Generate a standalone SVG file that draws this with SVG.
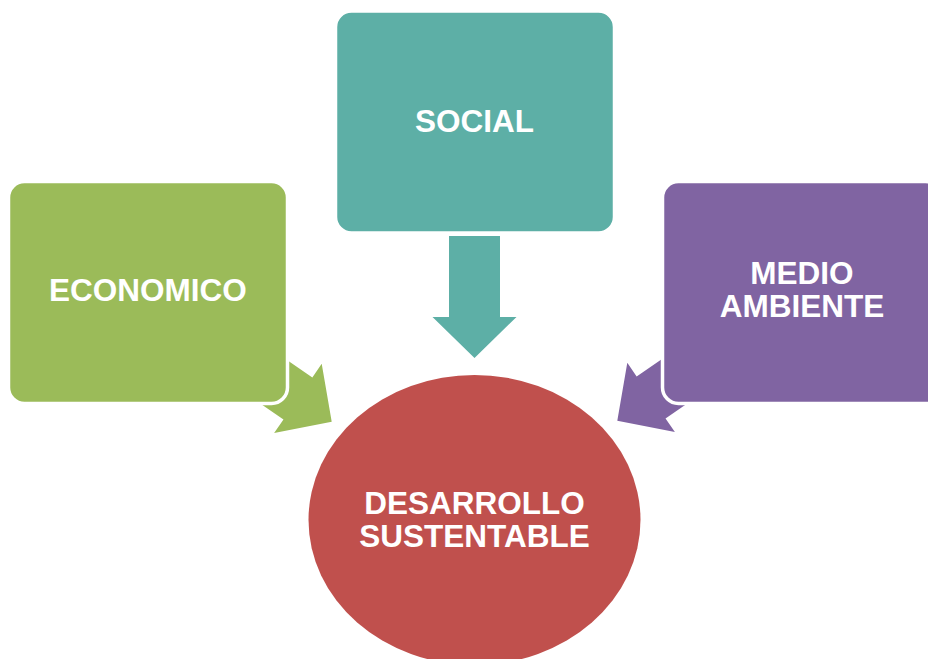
<svg xmlns="http://www.w3.org/2000/svg" width="928" height="659" viewBox="0 0 928 659">
  <style>
    .box { stroke: #ffffff; stroke-width: 3.5; }
    .lbl { font-family: "Liberation Sans", Arial, sans-serif; font-weight: bold; font-size: 31.5px; fill: #ffffff; text-anchor: middle; }
  </style>
  <defs>
    <polygon id="arrow" points="-25.5,-122 25.5,-122 25.5,-41 42,-41 0,0 -42,-41 -25.5,-41"/>
  </defs>
  <rect width="928" height="659" fill="#ffffff"/>
  <g id="connectors">
    <use href="#arrow" fill="#5DAFA6" transform="translate(474.5,358)"/>
    <use href="#arrow" fill="#9BBB59" transform="translate(331.7,421.7) rotate(-55.5)"/>
    <use href="#arrow" fill="#8064A2" transform="translate(617.3,420.7) rotate(55.5)"/>
  </g>
  <g id="economico">
    <rect class="box" x="8.5" y="181.5" width="279" height="222" rx="16" fill="#9BBB59"/>
    <text class="lbl" x="148" y="301">ECONOMICO</text>
  </g>
  <g id="social">
    <rect class="box" x="335.5" y="11" width="279" height="222" rx="16" fill="#5DAFA6"/>
    <text class="lbl" x="474.5" y="132">SOCIAL</text>
  </g>
  <g id="medio-ambiente">
    <rect class="box" x="662.5" y="181.5" width="279" height="222" rx="16" fill="#8064A2"/>
    <text class="lbl"><tspan x="802" y="284">MEDIO</tspan><tspan x="802" y="317">AMBIENTE</tspan></text>
  </g>
  <g id="desarrollo-sustentable">
    <ellipse cx="474.5" cy="520" rx="166" ry="145" fill="#C0504D"/>
    <text class="lbl"><tspan x="474.5" y="514">DESARROLLO</tspan><tspan x="474.5" y="547">SUSTENTABLE</tspan></text>
  </g>
</svg>
